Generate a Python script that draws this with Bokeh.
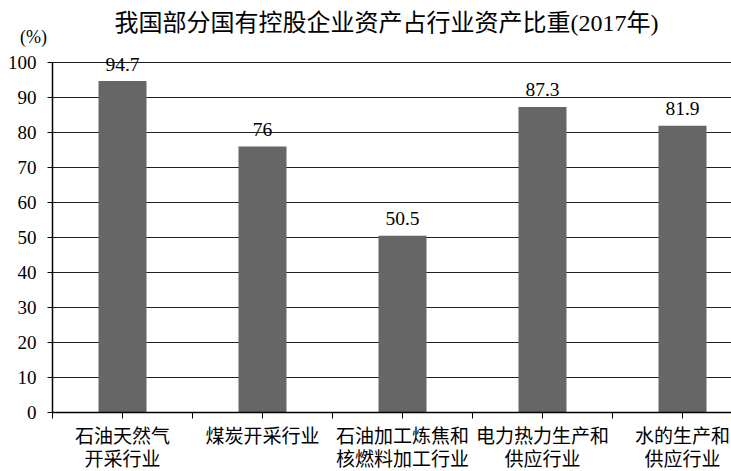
from bokeh.plotting import figure
from bokeh.models import Range1d, FixedTicker, ColumnDataSource, LinearAxis
from bokeh.core.properties import value
from bokeh.embed import file_html
from bokeh.resources import INLINE

# ---- data ----
title_text = "我国部分国有控股企业资产占行业资产比重(2017年)"
categories = ["石油天然气\n开采行业", "煤炭开采行业", "石油加工炼焦和\n核燃料加工行业",
              "电力热力生产和\n供应行业", "水的生产和\n供应行业"]
values = [94.7, 76, 50.5, 87.3, 81.9]
value_labels = ["94.7", "76", "50.5", "87.3", "81.9"]
y_ticks = [0, 10, 20, 30, 40, 50, 60, 70, 80, 90, 100]
unit_label = "(%)"

SERIF = "'Liberation Serif'"
MIXED = "'Liberation Serif', 'Noto Sans CJK SC'"
CJK = "'Noto Sans CJK SC'"

# ---- geometry (pixels) ----
W, H = 731, 471
AX_X = 52          # y-axis position in figure px
AX_Y = 412         # x-axis position in figure px
PX_X = 140         # px per category
PX_Y = 3.5         # px per percent

x_start = -AX_X / PX_X
x_end = (W - AX_X) / PX_X
y_end = AX_Y / PX_Y
y_start = -(H - AX_Y) / PX_Y

p = figure(width=W, height=H, output_backend="svg", toolbar_location=None,
           x_range=Range1d(x_start, x_end), y_range=Range1d(y_start, y_end),
           min_border_left=0, min_border_right=0, min_border_top=0, min_border_bottom=0,
           x_axis_type=None, y_axis_type=None,
           background_fill_color="white", border_fill_color="white")
p.outline_line_color = None
p.grid.visible = False

xs = [i + 0.5 for i in range(len(categories))]
line1 = [c.split("\n")[0] for c in categories]
line2 = [c.split("\n")[1] if "\n" in c else "" for c in categories]

# gridlines (horizontal, from the y-axis to the right edge)
grid_src = ColumnDataSource(dict(y=y_ticks[1:], x0=[0] * (len(y_ticks) - 1),
                                 x1=[x_end] * (len(y_ticks) - 1)))
p.segment(x0="x0", y0="y", x1="x1", y1="y", source=grid_src,
          line_color="#222222", line_width=1.2)

src = ColumnDataSource(dict(x=xs, top=values, lab=value_labels, l1=line1, l2=line2,
                            zero=[0] * len(xs)))
p.vbar(x="x", top="top", width=48 / PX_X, bottom=0, source=src,
       fill_color="#666666", line_color=None)

# value labels
p.text(x="x", y="top", text="lab", source=src, text_align="center",
       text_baseline="alphabetic", y_offset=-17,
       text_font=value(SERIF), text_font_size="19.5px", text_color="black")

# category labels (two lines)
p.text(x="x", y="zero", text="l1", source=src, text_align="center",
       text_baseline="middle", y_offset=22,
       text_font=value(CJK), text_font_size="19px", text_color="black")
p.text(x="x", y="zero", text="l2", source=src, text_align="center",
       text_baseline="middle", y_offset=45,
       text_font=value(CJK), text_font_size="19px", text_color="black")

# title and unit
p.text(x=[(386 - AX_X) / PX_X], y=[100], text=[title_text], text_align="center",
       text_baseline="middle", y_offset=-40,
       text_font=value(MIXED), text_font_size="24px", text_color="black")
p.text(x=[0], y=[100], text=[unit_label], text_align="center",
       text_baseline="middle", x_offset=-19, y_offset=-26,
       text_font=value(SERIF), text_font_size="18px", text_color="black")

# y axis
yax = LinearAxis(fixed_location=0, bounds=(0, 100))
yax.ticker = FixedTicker(ticks=y_ticks)
yax.major_label_text_font = SERIF
yax.major_label_text_font_size = "19px"
yax.major_label_text_color = "black"
yax.major_tick_in = 0
yax.major_tick_out = 5
yax.minor_tick_line_color = None
yax.axis_line_color = "black"
yax.axis_line_width = 1.5
yax.major_tick_line_color = "black"
yax.major_label_standoff = 11
p.add_layout(yax, "left")

# x axis
edge_ticks = [i * 0.5 for i in range(2 * len(categories))]
xax = LinearAxis(fixed_location=0, bounds=(0, x_end))
xax.ticker = FixedTicker(ticks=edge_ticks)
xax.major_label_overrides = {t: "" for t in edge_ticks}
xax.major_label_text_font_size = "1px"
xax.major_tick_in = 0
xax.major_tick_out = 6
xax.minor_tick_line_color = None
xax.axis_line_color = "black"
xax.axis_line_width = 1.5
xax.major_tick_line_color = "black"
p.add_layout(xax, "below")

open("out.html", "w").write(file_html(p, INLINE))
